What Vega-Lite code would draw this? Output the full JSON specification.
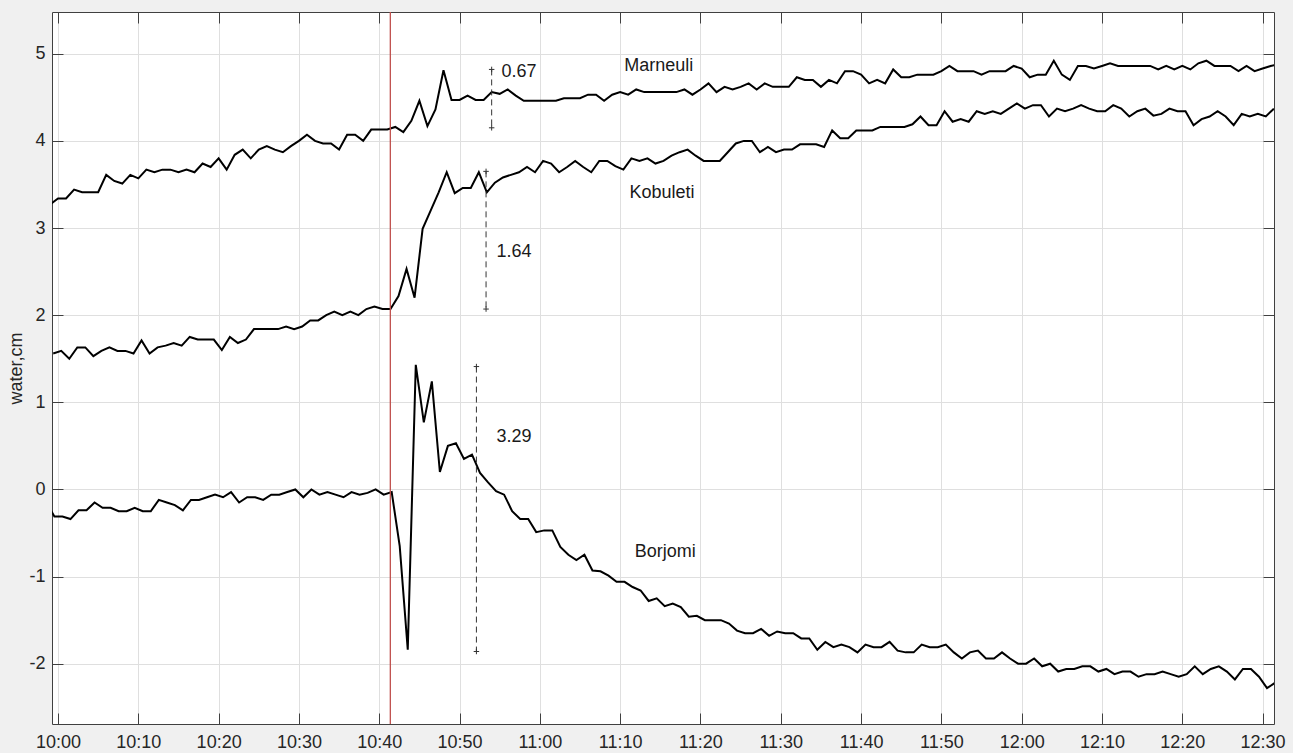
{
"$schema":"https://vega.github.io/schema/vega-lite/v6.json",
"width":1222,"height":712,
"autosize":{"type":"none"},
"padding":{"left":52,"top":12,"right":19,"bottom":29},
"background":"#f0f0f0",
"config":{"font":"Liberation Sans","view":{"fill":"white","stroke":null},
"axis":{"labelFont":"Liberation Sans","labelFontSize":18,"labelColor":"#262626","domainColor":"#404040","tickColor":"#404040","gridColor":"#dfdfdf","tickSize":-11,"titleFont":"Liberation Sans","titleFontSize":18,"titleFontWeight":"normal","titleColor":"#262626"}},
"resolve":{"axis":{"x":"independent","y":"independent"}},
"layer":[
{"data":{"values":[
{"s":"Marneuli","m":-1,"v":3.27},{"s":"Marneuli","m":0,"v":3.34},{"s":"Marneuli","m":1,"v":3.34},{"s":"Marneuli","m":2,"v":3.44},{"s":"Marneuli","m":3,"v":3.41},{"s":"Marneuli","m":4,"v":3.41},{"s":"Marneuli","m":5,"v":3.41},{"s":"Marneuli","m":6,"v":3.61},{"s":"Marneuli","m":7,"v":3.54},{"s":"Marneuli","m":8,"v":3.51},{"s":"Marneuli","m":9,"v":3.61},{"s":"Marneuli","m":10,"v":3.57},{"s":"Marneuli","m":11,"v":3.67},{"s":"Marneuli","m":12,"v":3.64},{"s":"Marneuli","m":13,"v":3.67},{"s":"Marneuli","m":14,"v":3.67},{"s":"Marneuli","m":15,"v":3.64},{"s":"Marneuli","m":16,"v":3.67},{"s":"Marneuli","m":17,"v":3.64},{"s":"Marneuli","m":18,"v":3.74},{"s":"Marneuli","m":19,"v":3.70},{"s":"Marneuli","m":20,"v":3.80},{"s":"Marneuli","m":21,"v":3.67},{"s":"Marneuli","m":22,"v":3.84},{"s":"Marneuli","m":23,"v":3.90},{"s":"Marneuli","m":24,"v":3.80},{"s":"Marneuli","m":25,"v":3.90},{"s":"Marneuli","m":26,"v":3.94},{"s":"Marneuli","m":27,"v":3.90},{"s":"Marneuli","m":28,"v":3.87},{"s":"Marneuli","m":29,"v":3.94},{"s":"Marneuli","m":30,"v":4.00},{"s":"Marneuli","m":31,"v":4.07},{"s":"Marneuli","m":32,"v":4.00},{"s":"Marneuli","m":33,"v":3.97},{"s":"Marneuli","m":34,"v":3.97},{"s":"Marneuli","m":35,"v":3.90},{"s":"Marneuli","m":36,"v":4.07},{"s":"Marneuli","m":37,"v":4.07},{"s":"Marneuli","m":38,"v":4.00},{"s":"Marneuli","m":39,"v":4.13},{"s":"Marneuli","m":40,"v":4.13},{"s":"Marneuli","m":41,"v":4.13},{"s":"Marneuli","m":42,"v":4.16},{"s":"Marneuli","m":43,"v":4.10},{"s":"Marneuli","m":44,"v":4.23},{"s":"Marneuli","m":45,"v":4.46},{"s":"Marneuli","m":46,"v":4.17},{"s":"Marneuli","m":47,"v":4.36},{"s":"Marneuli","m":48,"v":4.81},{"s":"Marneuli","m":49,"v":4.47},{"s":"Marneuli","m":50,"v":4.47},{"s":"Marneuli","m":51,"v":4.52},{"s":"Marneuli","m":52,"v":4.47},{"s":"Marneuli","m":53,"v":4.47},{"s":"Marneuli","m":54,"v":4.56},{"s":"Marneuli","m":55,"v":4.54},{"s":"Marneuli","m":56,"v":4.59},{"s":"Marneuli","m":57,"v":4.52},{"s":"Marneuli","m":58,"v":4.46},{"s":"Marneuli","m":59,"v":4.46},{"s":"Marneuli","m":60,"v":4.46},{"s":"Marneuli","m":61,"v":4.46},{"s":"Marneuli","m":62,"v":4.46},{"s":"Marneuli","m":63,"v":4.49},{"s":"Marneuli","m":64,"v":4.49},{"s":"Marneuli","m":65,"v":4.49},{"s":"Marneuli","m":66,"v":4.53},{"s":"Marneuli","m":67,"v":4.53},{"s":"Marneuli","m":68,"v":4.46},{"s":"Marneuli","m":69,"v":4.53},{"s":"Marneuli","m":70,"v":4.56},{"s":"Marneuli","m":71,"v":4.53},{"s":"Marneuli","m":72,"v":4.59},{"s":"Marneuli","m":73,"v":4.56},{"s":"Marneuli","m":74,"v":4.56},{"s":"Marneuli","m":75,"v":4.56},{"s":"Marneuli","m":76,"v":4.56},{"s":"Marneuli","m":77,"v":4.56},{"s":"Marneuli","m":78,"v":4.59},{"s":"Marneuli","m":79,"v":4.53},{"s":"Marneuli","m":80,"v":4.59},{"s":"Marneuli","m":81,"v":4.66},{"s":"Marneuli","m":82,"v":4.56},{"s":"Marneuli","m":83,"v":4.62},{"s":"Marneuli","m":84,"v":4.59},{"s":"Marneuli","m":85,"v":4.62},{"s":"Marneuli","m":86,"v":4.66},{"s":"Marneuli","m":87,"v":4.59},{"s":"Marneuli","m":88,"v":4.66},{"s":"Marneuli","m":89,"v":4.62},{"s":"Marneuli","m":90,"v":4.62},{"s":"Marneuli","m":91,"v":4.62},{"s":"Marneuli","m":92,"v":4.73},{"s":"Marneuli","m":93,"v":4.70},{"s":"Marneuli","m":94,"v":4.70},{"s":"Marneuli","m":95,"v":4.62},{"s":"Marneuli","m":96,"v":4.70},{"s":"Marneuli","m":97,"v":4.66},{"s":"Marneuli","m":98,"v":4.80},{"s":"Marneuli","m":99,"v":4.80},{"s":"Marneuli","m":100,"v":4.76},{"s":"Marneuli","m":101,"v":4.66},{"s":"Marneuli","m":102,"v":4.70},{"s":"Marneuli","m":103,"v":4.66},{"s":"Marneuli","m":104,"v":4.82},{"s":"Marneuli","m":105,"v":4.73},{"s":"Marneuli","m":106,"v":4.73},{"s":"Marneuli","m":107,"v":4.76},{"s":"Marneuli","m":108,"v":4.76},{"s":"Marneuli","m":109,"v":4.76},{"s":"Marneuli","m":110,"v":4.80},{"s":"Marneuli","m":111,"v":4.86},{"s":"Marneuli","m":112,"v":4.80},{"s":"Marneuli","m":113,"v":4.80},{"s":"Marneuli","m":114,"v":4.80},{"s":"Marneuli","m":115,"v":4.76},{"s":"Marneuli","m":116,"v":4.80},{"s":"Marneuli","m":117,"v":4.80},{"s":"Marneuli","m":118,"v":4.80},{"s":"Marneuli","m":119,"v":4.86},{"s":"Marneuli","m":120,"v":4.83},{"s":"Marneuli","m":121,"v":4.73},{"s":"Marneuli","m":122,"v":4.76},{"s":"Marneuli","m":123,"v":4.76},{"s":"Marneuli","m":124,"v":4.92},{"s":"Marneuli","m":125,"v":4.76},{"s":"Marneuli","m":126,"v":4.70},{"s":"Marneuli","m":127,"v":4.86},{"s":"Marneuli","m":128,"v":4.86},{"s":"Marneuli","m":129,"v":4.83},{"s":"Marneuli","m":130,"v":4.86},{"s":"Marneuli","m":131,"v":4.89},{"s":"Marneuli","m":132,"v":4.86},{"s":"Marneuli","m":133,"v":4.86},{"s":"Marneuli","m":134,"v":4.86},{"s":"Marneuli","m":135,"v":4.86},{"s":"Marneuli","m":136,"v":4.86},{"s":"Marneuli","m":137,"v":4.82},{"s":"Marneuli","m":138,"v":4.86},{"s":"Marneuli","m":139,"v":4.82},{"s":"Marneuli","m":140,"v":4.86},{"s":"Marneuli","m":141,"v":4.82},{"s":"Marneuli","m":142,"v":4.89},{"s":"Marneuli","m":143,"v":4.92},{"s":"Marneuli","m":144,"v":4.86},{"s":"Marneuli","m":145,"v":4.86},{"s":"Marneuli","m":146,"v":4.86},{"s":"Marneuli","m":147,"v":4.80},{"s":"Marneuli","m":148,"v":4.86},{"s":"Marneuli","m":149,"v":4.80},{"s":"Marneuli","m":150,"v":4.83},{"s":"Marneuli","m":151,"v":4.86},{"s":"Marneuli","m":152,"v":4.88},
{"s":"Kobuleti","m":-0.6,"v":1.56},{"s":"Kobuleti","m":0.4,"v":1.59},{"s":"Kobuleti","m":1.4,"v":1.50},{"s":"Kobuleti","m":2.4,"v":1.63},{"s":"Kobuleti","m":3.4,"v":1.63},{"s":"Kobuleti","m":4.4,"v":1.53},{"s":"Kobuleti","m":5.4,"v":1.59},{"s":"Kobuleti","m":6.4,"v":1.63},{"s":"Kobuleti","m":7.4,"v":1.59},{"s":"Kobuleti","m":8.4,"v":1.59},{"s":"Kobuleti","m":9.4,"v":1.56},{"s":"Kobuleti","m":10.4,"v":1.71},{"s":"Kobuleti","m":11.4,"v":1.56},{"s":"Kobuleti","m":12.4,"v":1.63},{"s":"Kobuleti","m":13.4,"v":1.65},{"s":"Kobuleti","m":14.4,"v":1.68},{"s":"Kobuleti","m":15.4,"v":1.65},{"s":"Kobuleti","m":16.4,"v":1.75},{"s":"Kobuleti","m":17.4,"v":1.72},{"s":"Kobuleti","m":18.4,"v":1.72},{"s":"Kobuleti","m":19.4,"v":1.72},{"s":"Kobuleti","m":20.4,"v":1.60},{"s":"Kobuleti","m":21.4,"v":1.75},{"s":"Kobuleti","m":22.4,"v":1.68},{"s":"Kobuleti","m":23.4,"v":1.72},{"s":"Kobuleti","m":24.4,"v":1.84},{"s":"Kobuleti","m":25.4,"v":1.84},{"s":"Kobuleti","m":26.4,"v":1.84},{"s":"Kobuleti","m":27.4,"v":1.84},{"s":"Kobuleti","m":28.4,"v":1.87},{"s":"Kobuleti","m":29.4,"v":1.84},{"s":"Kobuleti","m":30.4,"v":1.87},{"s":"Kobuleti","m":31.4,"v":1.94},{"s":"Kobuleti","m":32.4,"v":1.94},{"s":"Kobuleti","m":33.4,"v":2.00},{"s":"Kobuleti","m":34.4,"v":2.04},{"s":"Kobuleti","m":35.4,"v":2.00},{"s":"Kobuleti","m":36.4,"v":2.04},{"s":"Kobuleti","m":37.4,"v":2.00},{"s":"Kobuleti","m":38.4,"v":2.07},{"s":"Kobuleti","m":39.4,"v":2.10},{"s":"Kobuleti","m":40.4,"v":2.07},{"s":"Kobuleti","m":41.4,"v":2.07},{"s":"Kobuleti","m":42.4,"v":2.22},{"s":"Kobuleti","m":43.4,"v":2.53},{"s":"Kobuleti","m":44.4,"v":2.20},{"s":"Kobuleti","m":45.4,"v":2.99},{"s":"Kobuleti","m":46.4,"v":3.20},{"s":"Kobuleti","m":47.4,"v":3.41},{"s":"Kobuleti","m":48.4,"v":3.64},{"s":"Kobuleti","m":49.4,"v":3.40},{"s":"Kobuleti","m":50.4,"v":3.46},{"s":"Kobuleti","m":51.4,"v":3.46},{"s":"Kobuleti","m":52.4,"v":3.64},{"s":"Kobuleti","m":53.4,"v":3.41},{"s":"Kobuleti","m":54.4,"v":3.52},{"s":"Kobuleti","m":55.4,"v":3.58},{"s":"Kobuleti","m":56.4,"v":3.61},{"s":"Kobuleti","m":57.4,"v":3.64},{"s":"Kobuleti","m":58.4,"v":3.70},{"s":"Kobuleti","m":59.4,"v":3.64},{"s":"Kobuleti","m":60.4,"v":3.77},{"s":"Kobuleti","m":61.4,"v":3.74},{"s":"Kobuleti","m":62.4,"v":3.64},{"s":"Kobuleti","m":63.4,"v":3.70},{"s":"Kobuleti","m":64.4,"v":3.77},{"s":"Kobuleti","m":65.4,"v":3.70},{"s":"Kobuleti","m":66.4,"v":3.64},{"s":"Kobuleti","m":67.4,"v":3.77},{"s":"Kobuleti","m":68.4,"v":3.77},{"s":"Kobuleti","m":69.4,"v":3.71},{"s":"Kobuleti","m":70.4,"v":3.67},{"s":"Kobuleti","m":71.4,"v":3.80},{"s":"Kobuleti","m":72.4,"v":3.77},{"s":"Kobuleti","m":73.4,"v":3.80},{"s":"Kobuleti","m":74.4,"v":3.74},{"s":"Kobuleti","m":75.4,"v":3.77},{"s":"Kobuleti","m":76.4,"v":3.83},{"s":"Kobuleti","m":77.4,"v":3.87},{"s":"Kobuleti","m":78.4,"v":3.90},{"s":"Kobuleti","m":79.4,"v":3.83},{"s":"Kobuleti","m":80.4,"v":3.77},{"s":"Kobuleti","m":81.4,"v":3.77},{"s":"Kobuleti","m":82.4,"v":3.77},{"s":"Kobuleti","m":83.4,"v":3.87},{"s":"Kobuleti","m":84.4,"v":3.97},{"s":"Kobuleti","m":85.4,"v":4.00},{"s":"Kobuleti","m":86.4,"v":4.00},{"s":"Kobuleti","m":87.4,"v":3.87},{"s":"Kobuleti","m":88.4,"v":3.93},{"s":"Kobuleti","m":89.4,"v":3.87},{"s":"Kobuleti","m":90.4,"v":3.90},{"s":"Kobuleti","m":91.4,"v":3.90},{"s":"Kobuleti","m":92.4,"v":3.96},{"s":"Kobuleti","m":93.4,"v":3.96},{"s":"Kobuleti","m":94.4,"v":3.96},{"s":"Kobuleti","m":95.4,"v":3.93},{"s":"Kobuleti","m":96.4,"v":4.12},{"s":"Kobuleti","m":97.4,"v":4.03},{"s":"Kobuleti","m":98.4,"v":4.03},{"s":"Kobuleti","m":99.4,"v":4.12},{"s":"Kobuleti","m":100.4,"v":4.12},{"s":"Kobuleti","m":101.4,"v":4.12},{"s":"Kobuleti","m":102.4,"v":4.16},{"s":"Kobuleti","m":103.4,"v":4.16},{"s":"Kobuleti","m":104.4,"v":4.16},{"s":"Kobuleti","m":105.4,"v":4.16},{"s":"Kobuleti","m":106.4,"v":4.19},{"s":"Kobuleti","m":107.4,"v":4.28},{"s":"Kobuleti","m":108.4,"v":4.18},{"s":"Kobuleti","m":109.4,"v":4.18},{"s":"Kobuleti","m":110.4,"v":4.34},{"s":"Kobuleti","m":111.4,"v":4.22},{"s":"Kobuleti","m":112.4,"v":4.25},{"s":"Kobuleti","m":113.4,"v":4.22},{"s":"Kobuleti","m":114.4,"v":4.34},{"s":"Kobuleti","m":115.4,"v":4.31},{"s":"Kobuleti","m":116.4,"v":4.34},{"s":"Kobuleti","m":117.4,"v":4.31},{"s":"Kobuleti","m":118.4,"v":4.37},{"s":"Kobuleti","m":119.4,"v":4.43},{"s":"Kobuleti","m":120.4,"v":4.37},{"s":"Kobuleti","m":121.4,"v":4.41},{"s":"Kobuleti","m":122.4,"v":4.41},{"s":"Kobuleti","m":123.4,"v":4.28},{"s":"Kobuleti","m":124.4,"v":4.37},{"s":"Kobuleti","m":125.4,"v":4.34},{"s":"Kobuleti","m":126.4,"v":4.37},{"s":"Kobuleti","m":127.4,"v":4.41},{"s":"Kobuleti","m":128.4,"v":4.37},{"s":"Kobuleti","m":129.4,"v":4.34},{"s":"Kobuleti","m":130.4,"v":4.34},{"s":"Kobuleti","m":131.4,"v":4.41},{"s":"Kobuleti","m":132.4,"v":4.37},{"s":"Kobuleti","m":133.4,"v":4.28},{"s":"Kobuleti","m":134.4,"v":4.34},{"s":"Kobuleti","m":135.4,"v":4.37},{"s":"Kobuleti","m":136.4,"v":4.29},{"s":"Kobuleti","m":137.4,"v":4.31},{"s":"Kobuleti","m":138.4,"v":4.37},{"s":"Kobuleti","m":139.4,"v":4.34},{"s":"Kobuleti","m":140.4,"v":4.34},{"s":"Kobuleti","m":141.4,"v":4.18},{"s":"Kobuleti","m":142.4,"v":4.25},{"s":"Kobuleti","m":143.4,"v":4.28},{"s":"Kobuleti","m":144.4,"v":4.34},{"s":"Kobuleti","m":145.4,"v":4.28},{"s":"Kobuleti","m":146.4,"v":4.18},{"s":"Kobuleti","m":147.4,"v":4.31},{"s":"Kobuleti","m":148.4,"v":4.28},{"s":"Kobuleti","m":149.4,"v":4.31},{"s":"Kobuleti","m":150.4,"v":4.28},{"s":"Kobuleti","m":151.4,"v":4.37},
{"s":"Borjomi","m":-1.45,"v":-0.15},{"s":"Borjomi","m":-0.45,"v":-0.31},{"s":"Borjomi","m":0.55,"v":-0.31},{"s":"Borjomi","m":1.55,"v":-0.34},{"s":"Borjomi","m":2.55,"v":-0.24},{"s":"Borjomi","m":3.55,"v":-0.24},{"s":"Borjomi","m":4.55,"v":-0.15},{"s":"Borjomi","m":5.55,"v":-0.21},{"s":"Borjomi","m":6.55,"v":-0.21},{"s":"Borjomi","m":7.55,"v":-0.25},{"s":"Borjomi","m":8.55,"v":-0.25},{"s":"Borjomi","m":9.55,"v":-0.21},{"s":"Borjomi","m":10.55,"v":-0.25},{"s":"Borjomi","m":11.55,"v":-0.25},{"s":"Borjomi","m":12.55,"v":-0.12},{"s":"Borjomi","m":13.55,"v":-0.15},{"s":"Borjomi","m":14.55,"v":-0.18},{"s":"Borjomi","m":15.55,"v":-0.24},{"s":"Borjomi","m":16.55,"v":-0.12},{"s":"Borjomi","m":17.55,"v":-0.12},{"s":"Borjomi","m":18.55,"v":-0.09},{"s":"Borjomi","m":19.55,"v":-0.06},{"s":"Borjomi","m":20.55,"v":-0.09},{"s":"Borjomi","m":21.55,"v":-0.03},{"s":"Borjomi","m":22.55,"v":-0.15},{"s":"Borjomi","m":23.55,"v":-0.09},{"s":"Borjomi","m":24.55,"v":-0.09},{"s":"Borjomi","m":25.55,"v":-0.12},{"s":"Borjomi","m":26.55,"v":-0.06},{"s":"Borjomi","m":27.55,"v":-0.06},{"s":"Borjomi","m":28.55,"v":-0.03},{"s":"Borjomi","m":29.55,"v":0.00},{"s":"Borjomi","m":30.55,"v":-0.09},{"s":"Borjomi","m":31.55,"v":0.00},{"s":"Borjomi","m":32.55,"v":-0.06},{"s":"Borjomi","m":33.55,"v":-0.03},{"s":"Borjomi","m":34.55,"v":-0.06},{"s":"Borjomi","m":35.55,"v":-0.09},{"s":"Borjomi","m":36.55,"v":-0.03},{"s":"Borjomi","m":37.55,"v":-0.06},{"s":"Borjomi","m":38.55,"v":-0.04},{"s":"Borjomi","m":39.55,"v":0.00},{"s":"Borjomi","m":40.55,"v":-0.06},{"s":"Borjomi","m":41.55,"v":-0.03},{"s":"Borjomi","m":42.55,"v":-0.65},{"s":"Borjomi","m":43.55,"v":-1.84},{"s":"Borjomi","m":44.55,"v":1.43},{"s":"Borjomi","m":45.55,"v":0.77},{"s":"Borjomi","m":46.55,"v":1.24},{"s":"Borjomi","m":47.55,"v":0.20},{"s":"Borjomi","m":48.55,"v":0.50},{"s":"Borjomi","m":49.55,"v":0.53},{"s":"Borjomi","m":50.55,"v":0.35},{"s":"Borjomi","m":51.55,"v":0.40},{"s":"Borjomi","m":52.55,"v":0.19},{"s":"Borjomi","m":53.55,"v":0.08},{"s":"Borjomi","m":54.55,"v":-0.02},{"s":"Borjomi","m":55.55,"v":-0.06},{"s":"Borjomi","m":56.55,"v":-0.25},{"s":"Borjomi","m":57.55,"v":-0.34},{"s":"Borjomi","m":58.55,"v":-0.34},{"s":"Borjomi","m":59.55,"v":-0.49},{"s":"Borjomi","m":60.55,"v":-0.47},{"s":"Borjomi","m":61.55,"v":-0.47},{"s":"Borjomi","m":62.55,"v":-0.66},{"s":"Borjomi","m":63.55,"v":-0.75},{"s":"Borjomi","m":64.55,"v":-0.81},{"s":"Borjomi","m":65.55,"v":-0.75},{"s":"Borjomi","m":66.55,"v":-0.93},{"s":"Borjomi","m":67.55,"v":-0.94},{"s":"Borjomi","m":68.55,"v":-0.99},{"s":"Borjomi","m":69.55,"v":-1.06},{"s":"Borjomi","m":70.55,"v":-1.06},{"s":"Borjomi","m":71.55,"v":-1.12},{"s":"Borjomi","m":72.55,"v":-1.16},{"s":"Borjomi","m":73.55,"v":-1.28},{"s":"Borjomi","m":74.55,"v":-1.25},{"s":"Borjomi","m":75.55,"v":-1.34},{"s":"Borjomi","m":76.55,"v":-1.31},{"s":"Borjomi","m":77.55,"v":-1.35},{"s":"Borjomi","m":78.55,"v":-1.46},{"s":"Borjomi","m":79.55,"v":-1.45},{"s":"Borjomi","m":80.55,"v":-1.50},{"s":"Borjomi","m":81.55,"v":-1.50},{"s":"Borjomi","m":82.55,"v":-1.50},{"s":"Borjomi","m":83.55,"v":-1.54},{"s":"Borjomi","m":84.55,"v":-1.62},{"s":"Borjomi","m":85.55,"v":-1.65},{"s":"Borjomi","m":86.55,"v":-1.65},{"s":"Borjomi","m":87.55,"v":-1.60},{"s":"Borjomi","m":88.55,"v":-1.68},{"s":"Borjomi","m":89.55,"v":-1.63},{"s":"Borjomi","m":90.55,"v":-1.65},{"s":"Borjomi","m":91.55,"v":-1.65},{"s":"Borjomi","m":92.55,"v":-1.71},{"s":"Borjomi","m":93.55,"v":-1.71},{"s":"Borjomi","m":94.55,"v":-1.84},{"s":"Borjomi","m":95.55,"v":-1.75},{"s":"Borjomi","m":96.55,"v":-1.81},{"s":"Borjomi","m":97.55,"v":-1.78},{"s":"Borjomi","m":98.55,"v":-1.81},{"s":"Borjomi","m":99.55,"v":-1.87},{"s":"Borjomi","m":100.55,"v":-1.78},{"s":"Borjomi","m":101.55,"v":-1.81},{"s":"Borjomi","m":102.55,"v":-1.81},{"s":"Borjomi","m":103.55,"v":-1.75},{"s":"Borjomi","m":104.55,"v":-1.85},{"s":"Borjomi","m":105.55,"v":-1.87},{"s":"Borjomi","m":106.55,"v":-1.87},{"s":"Borjomi","m":107.55,"v":-1.78},{"s":"Borjomi","m":108.55,"v":-1.81},{"s":"Borjomi","m":109.55,"v":-1.81},{"s":"Borjomi","m":110.55,"v":-1.78},{"s":"Borjomi","m":111.55,"v":-1.87},{"s":"Borjomi","m":112.55,"v":-1.94},{"s":"Borjomi","m":113.55,"v":-1.87},{"s":"Borjomi","m":114.55,"v":-1.85},{"s":"Borjomi","m":115.55,"v":-1.94},{"s":"Borjomi","m":116.55,"v":-1.94},{"s":"Borjomi","m":117.55,"v":-1.87},{"s":"Borjomi","m":118.55,"v":-1.94},{"s":"Borjomi","m":119.55,"v":-2.00},{"s":"Borjomi","m":120.55,"v":-2.00},{"s":"Borjomi","m":121.55,"v":-1.94},{"s":"Borjomi","m":122.55,"v":-2.03},{"s":"Borjomi","m":123.55,"v":-2.00},{"s":"Borjomi","m":124.55,"v":-2.09},{"s":"Borjomi","m":125.55,"v":-2.06},{"s":"Borjomi","m":126.55,"v":-2.06},{"s":"Borjomi","m":127.55,"v":-2.03},{"s":"Borjomi","m":128.55,"v":-2.03},{"s":"Borjomi","m":129.55,"v":-2.09},{"s":"Borjomi","m":130.55,"v":-2.06},{"s":"Borjomi","m":131.55,"v":-2.12},{"s":"Borjomi","m":132.55,"v":-2.09},{"s":"Borjomi","m":133.55,"v":-2.09},{"s":"Borjomi","m":134.55,"v":-2.15},{"s":"Borjomi","m":135.55,"v":-2.12},{"s":"Borjomi","m":136.55,"v":-2.12},{"s":"Borjomi","m":137.55,"v":-2.09},{"s":"Borjomi","m":138.55,"v":-2.12},{"s":"Borjomi","m":139.55,"v":-2.15},{"s":"Borjomi","m":140.55,"v":-2.12},{"s":"Borjomi","m":141.55,"v":-2.03},{"s":"Borjomi","m":142.55,"v":-2.12},{"s":"Borjomi","m":143.55,"v":-2.06},{"s":"Borjomi","m":144.55,"v":-2.03},{"s":"Borjomi","m":145.55,"v":-2.09},{"s":"Borjomi","m":146.55,"v":-2.18},{"s":"Borjomi","m":147.55,"v":-2.06},{"s":"Borjomi","m":148.55,"v":-2.06},{"s":"Borjomi","m":149.55,"v":-2.15},{"s":"Borjomi","m":150.55,"v":-2.28},{"s":"Borjomi","m":151.55,"v":-2.22}
]},
"mark":{"type":"line","color":"#000000","strokeWidth":2,"clip":true},
"encoding":{
"x":{"field":"m","type":"quantitative","scale":{"domain":[-0.75,151.42],"nice":false,"zero":false},
"axis":{"orient":"bottom","values":[0,10,20,30,40,50,60,70,80,90,100,110,120,130,140,150],"labelExpr":"(floor(datum.value/60)+10) + ':' + (datum.value%60 < 10 ? '0' : '') + (datum.value%60)","grid":true,"labelPadding":20,"title":null}},
"y":{"field":"v","type":"quantitative","scale":{"domain":[-2.692,5.479],"nice":false,"zero":false},
"axis":{"orient":"left","values":[-2,-1,0,1,2,3,4,5],"labelExpr":"'' + datum.value","grid":true,"labelPadding":18,"title":"water,cm","titlePadding":3}},
"detail":{"field":"s","type":"nominal"}}},
{"data":{"values":[{"m":0,"v":0}]},
"mark":{"type":"point","opacity":0},
"encoding":{
"x":{"field":"m","type":"quantitative","scale":{"domain":[-0.75,151.42],"nice":false,"zero":false},
"axis":{"orient":"top","values":[0,10,20,30,40,50,60,70,80,90,100,110,120,130,140,150],"labels":false,"grid":false,"title":null}},
"y":{"field":"v","type":"quantitative","scale":{"domain":[-2.692,5.479],"nice":false,"zero":false},
"axis":{"orient":"right","values":[-2,-1,0,1,2,3,4,5],"labels":false,"grid":false,"title":null}}}},
{"data":{"values":[{"m":41.38}]},
"mark":{"type":"rule","color":"#c0504d","strokeWidth":1.3},
"encoding":{"x":{"field":"m","type":"quantitative","axis":null}}},
{"data":{"values":[{"m":54.0,"top":4.82,"bottom":4.15},{"m":53.3,"top":3.65,"bottom":2.07},{"m":52.1,"top":1.41,"bottom":-1.86}]},
"mark":{"type":"rule","color":"#333333","strokeWidth":1,"strokeDash":[6,4]},
"encoding":{"x":{"field":"m","type":"quantitative","axis":null},"y":{"field":"top","type":"quantitative","axis":null},"y2":{"field":"bottom"}}},
{"data":{"values":[{"m":54.0,"top":4.82,"bottom":4.15},{"m":53.3,"top":3.65,"bottom":2.07},{"m":52.1,"top":1.41,"bottom":-1.86}]},
"mark":{"type":"point","shape":"M-1,0L1,0M0,-1L0,1","size":30,"filled":false,"color":"#333333","strokeWidth":1,"opacity":1},
"encoding":{"x":{"field":"m","type":"quantitative","axis":null},"y":{"field":"top","type":"quantitative","axis":null}}},
{"data":{"values":[{"m":54.0,"top":4.82,"bottom":4.15},{"m":53.3,"top":3.65,"bottom":2.07},{"m":52.1,"top":1.41,"bottom":-1.86}]},
"mark":{"type":"point","shape":"M-1,0L1,0M0,-1L0,1","size":30,"filled":false,"color":"#333333","strokeWidth":1,"opacity":1},
"encoding":{"x":{"field":"m","type":"quantitative","axis":null},"y":{"field":"bottom","type":"quantitative","axis":null}}},
{"data":{"values":[{"m":74.8,"v":4.86,"label":"Marneuli"},{"m":75.2,"v":3.40,"label":"Kobuleti"},{"m":75.6,"v":-0.72,"label":"Borjomi"}]},
"mark":{"type":"text","fontSize":18,"color":"#1a1a1a","align":"center","baseline":"middle"},
"encoding":{"x":{"field":"m","type":"quantitative","axis":null},"y":{"field":"v","type":"quantitative","axis":null},"text":{"field":"label"}}},
{"data":{"values":[{"m":55.23,"v":4.79,"label":"0.67"},{"m":54.6,"v":2.73,"label":"1.64"},{"m":54.6,"v":0.60,"label":"3.29"}]},
"mark":{"type":"text","fontSize":18,"color":"#1a1a1a","align":"left","baseline":"middle"},
"encoding":{"x":{"field":"m","type":"quantitative","axis":null},"y":{"field":"v","type":"quantitative","axis":null},"text":{"field":"label"}}}
]
}
